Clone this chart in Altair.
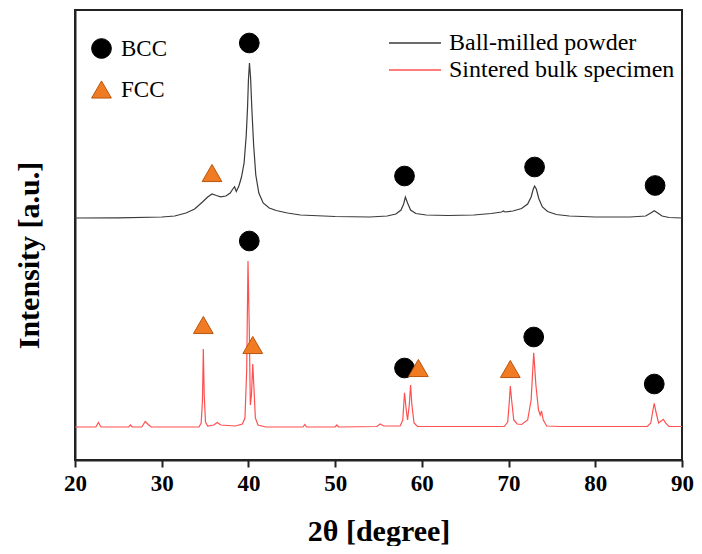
import altair as alt
import pandas as pd

# ---- Ball-milled powder (upper trace) ----
bm_x = [20, 25, 30, 31.5, 32.8, 33.8, 34.7, 35.3, 35.8, 36.3, 36.8, 37.4, 37.9, 38.2, 38.4, 38.6,
        38.9, 39.2, 39.5, 39.75, 39.9, 40.0, 40.12, 40.25, 40.4, 40.6, 40.85, 41.2, 41.7, 42.4,
        43.2, 44.5, 46, 50, 54, 56, 57, 57.6, 57.9, 58.1, 58.35, 58.7, 59.3, 60.5, 63, 66, 68,
        69.2, 69.4, 69.6, 70.5, 71.5, 72.2, 72.6, 72.85, 73.0, 73.2, 73.5, 73.9, 74.5, 75.5, 77,
        80, 84, 85.8, 86.4, 86.8, 87.2, 87.7, 88.5, 90]
bm_y = [242, 242.2, 243, 244, 247, 251, 258, 263, 266, 264.5, 263.2, 264, 267, 271, 273.3, 268.5,
        274, 283, 297, 325, 353, 380, 397, 382, 350, 315, 285, 267, 257, 252,
        249.5, 247, 245, 243.5, 243, 244, 246, 250, 256, 263, 257, 250, 246.5, 245, 244.5, 245, 246.5,
        248, 249, 248, 249, 251.5, 256, 263, 271, 274, 271, 261, 253, 248.5, 245.5, 244,
        243, 243, 244, 247, 249.3, 247, 244, 242.5, 242]

# ---- Sintered bulk specimen (lower trace) ----
sb_x = [20, 22.4, 22.7, 23.0, 26.2, 26.4, 26.6, 27.7, 28.1, 28.5, 28.8, 34.3, 34.55, 34.7, 34.8,
        34.9, 35.05, 35.3, 36.0, 36.4, 36.8, 38.5, 39.3, 39.6, 39.8, 39.95, 40.1, 40.22, 40.35,
        40.5, 40.62, 40.8, 41.1, 42, 46.3, 46.5, 46.7, 50.0, 50.2, 50.4, 54.8, 55.2, 55.6, 57.5,
        57.8, 58.0, 58.2, 58.35, 58.55, 58.7, 58.85, 59.1, 59.5, 69.5, 69.9, 70.1, 70.2, 70.35,
        70.6, 71.0, 71.5, 72.2, 72.6, 72.9, 73.15, 73.45, 73.65, 73.8, 74.0, 74.4, 76, 86.0, 86.4,
        86.65, 86.8, 87.0, 87.3, 87.6, 87.85, 88.1, 88.5, 90]
sb_y = [33, 33, 37.5, 33, 33, 35, 33, 33, 38.5, 35, 33, 33, 37, 60, 111,
        65, 38, 34, 35, 37.5, 35, 34, 36, 42, 90, 199, 130, 55, 65,
        96, 75, 42, 35, 33, 33, 35.5, 33, 33, 35, 33, 33.5, 36, 34, 34,
        40, 67.3, 50, 40, 55, 75, 55, 37, 33.5, 33.5, 38, 60, 74, 60,
        40, 36, 35.5, 40, 60, 107.3, 75, 50, 45, 49, 40, 34, 33.5, 33.5, 37,
        50, 56.7, 48, 37, 39, 40.7, 37, 33.5, 33.5]

# ---- Phase markers ----
mk_x = [40.1, 58.0, 73.0, 86.9, 35.8, 40.1, 34.8, 40.5, 58.0, 59.6, 70.2, 72.9, 86.8]
mk_y = [417, 284, 293, 274.5, 287, 219, 135, 115, 92, 92, 91, 123, 76]
mk_phase = ["BCC", "BCC", "BCC", "BCC", "FCC", "BCC", "FCC", "FCC", "BCC", "FCC", "FCC", "BCC", "BCC"]

series_names = ["Ball-milled powder", "Sintered bulk specimen"]
series_colors = ["#3a3a3a", "#ff5050"]
phase_names = ["BCC", "FCC"]
phase_fill = ["#000000", "#f07b22"]
phase_stroke = ["#000000", "#b8560e"]
x_ticks = [20, 30, 40, 50, 60, 70, 80, 90]

FONT = "Liberation Serif"

lines_df = pd.concat([
    pd.DataFrame({"x": bm_x, "y": bm_y, "series": series_names[0], "i": range(len(bm_x))}),
    pd.DataFrame({"x": sb_x, "y": sb_y, "series": series_names[1], "i": range(len(sb_x))}),
])
marks_df = pd.DataFrame({"x": mk_x, "y": mk_y, "phase": mk_phase})

xscale = alt.Scale(domain=[20, 90], nice=False, zero=False)
yscale = alt.Scale(domain=[0, 450], nice=False)

xaxis = alt.Axis(values=x_ticks, format="d", title="2θ [degree]", grid=False,
                 labelFont=FONT, labelFontWeight="bold", labelFontSize=23, labelColor="#000",
                 labelFlush=False, labelOverlap=False, labelPadding=5,
                 tickSize=7, tickWidth=2, tickColor="#222",
                 domainWidth=2, domainColor="#222",
                 titleFont=FONT, titleFontSize=30, titleFontWeight="bold", titleColor="#000",
                 titleY=80, titleBaseline="alphabetic")
yaxis = alt.Axis(labels=False, ticks=False, grid=False, title="Intensity [a.u.]",
                 domainWidth=2, domainColor="#222",
                 titleFont=FONT, titleFontSize=30, titleFontWeight="bold", titleColor="#000",
                 titleX=-31, titleY=245, titleBaseline="bottom", titleAlign="center", titleAngle=270)

lines = alt.Chart(lines_df).mark_line(strokeWidth=1.2, clip=True).encode(
    x=alt.X("x:Q", scale=xscale, axis=xaxis),
    y=alt.Y("y:Q", scale=yscale, axis=yaxis),
    color=alt.Color("series:N", scale=alt.Scale(domain=series_names, range=series_colors),
                    legend=alt.Legend(title=None, orient="none", legendX=328, legendY=21,
                                      symbolType="M-2.6,0H2.6", symbolSize=400,
                                      symbolStrokeWidth=1.5, symbolFillColor="transparent",
                                      labelFont=FONT, labelFontSize=24, labelColor="#000",
                                      labelOffset=22, rowPadding=3, padding=0, labelLimit=400)),
    order="i:Q",
)

leg_phase = alt.Legend(title=None, orient="none", legendX=15, legendY=27,
                       symbolSize=390, symbolStrokeWidth=1, symbolOpacity=1,
                       labelFont=FONT, labelFontSize=23, labelColor="#000",
                       labelOffset=8, rowPadding=17, padding=0)

points = alt.Chart(marks_df).mark_point(filled=True, size=390, strokeWidth=1, opacity=1).encode(
    x="x:Q",
    y="y:Q",
    fill=alt.Fill("phase:N", scale=alt.Scale(domain=phase_names, range=phase_fill), legend=leg_phase),
    stroke=alt.Stroke("phase:N", scale=alt.Scale(domain=phase_names, range=phase_stroke), legend=leg_phase),
    shape=alt.Shape("phase:N", scale=alt.Scale(domain=phase_names, range=["circle", "triangle-up"]),
                    legend=leg_phase),
)

chart = alt.layer(lines, points).properties(
    width=607, height=450,
    autosize=alt.AutoSizeParams(type="none"),
    padding={"left": 67, "top": 2, "right": 12, "bottom": 86},
    background="white",
).configure_view(stroke="#222", strokeWidth=2)

chart.save("out.html", embed_options={"renderer": "svg", "actions": False})
